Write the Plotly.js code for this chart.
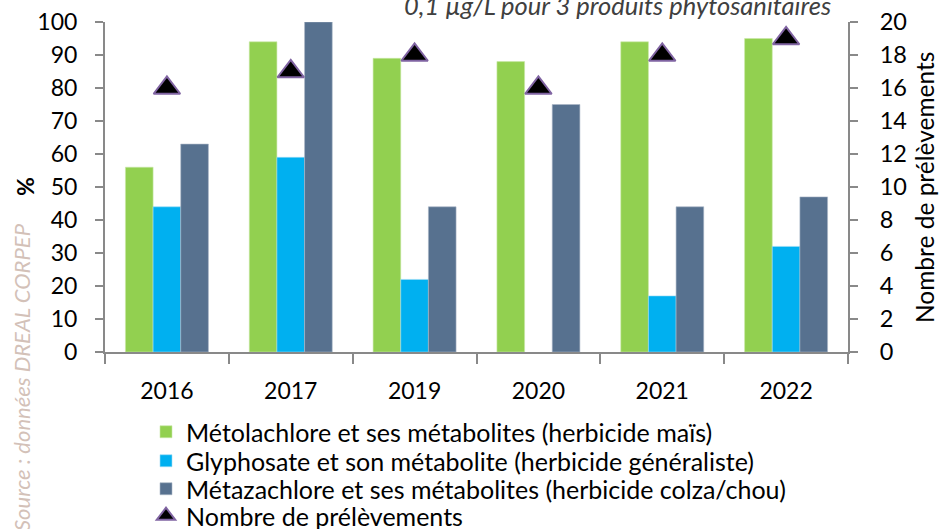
<!DOCTYPE html>
<html>
<head>
<meta charset="utf-8">
<script src="https://cdn.plot.ly/plotly-3.0.1.min.js"></script>
<style>html,body{margin:0;padding:0;background:#fff}#chart{width:940px;height:529px}</style>
</head>
<body>
<div id="chart"></div>
<script>
const years = ["2016", "2017", "2019", "2020", "2021", "2022"];
const metolachlore = [56, 94, 89, 88, 94, 95];
const glyphosate = [44, 59, 22, null, 17, 32];
const metazachlore = [63, 100, 44, 75, 44, 47];
const prelevements = [16, 17, 18, 16, 18, 19];
const seriesNames = [
  "Métolachlore et ses métabolites (herbicide maïs)",
  "Glyphosate et son métabolite (herbicide généraliste)",
  "Métazachlore et ses métabolites (herbicide colza/chou)",
  "Nombre de prélèvements"
];

const FONT = "Lato, 'Liberation Sans', sans-serif";
const W = 940, H = 529;

const traces = [
  {type: "bar", x: years, y: metolachlore, name: seriesNames[0], legend: "legend",
   marker: {color: "#92d050", line: {color: "#c9e8a8", width: 0.6}}},
  {type: "bar", x: years, y: glyphosate, name: seriesNames[1], legend: "legend2",
   marker: {color: "#00b0f0", line: {color: "#9fdcf5", width: 0.6}}},
  {type: "bar", x: years, y: metazachlore, name: seriesNames[2], legend: "legend3",
   marker: {color: "#57718f", line: {color: "#a9b6c6", width: 0.6}}},
  {type: "scatter", mode: "markers", x: years, y: prelevements, yaxis: "y2", name: seriesNames[3], legend: "legend4",
   marker: {symbol: "triangle-up", size: 23, color: "#000000", line: {color: "#8064a2", width: 2}}}
];

function leg(rowY) {
  return {
    xref: "container", yref: "container",
    x: 146 / W, y: 1 - rowY / H, xanchor: "left", yanchor: "middle",
    font: {family: FONT, size: 25, color: "#000000"},
    bgcolor: "rgba(0,0,0,0)", itemwidth: 30
  };
}

const layout = {
  width: W, height: H,
  margin: {l: 105, r: 92, t: 22, b: 177, autoexpand: false},
  paper_bgcolor: "#ffffff", plot_bgcolor: "#ffffff",
  font: {family: FONT, size: 23, color: "#000000"},
  barmode: "group",
  bargap: 0.33,
  bargroupgap: 0,
  showlegend: true,
  legend: leg(432),
  legend2: leg(461),
  legend3: leg(489),
  legend4: leg(516),
  xaxis: {
    type: "category",
    showline: true, linecolor: "#898989", linewidth: 2,
    ticks: "outside", tickson: "boundaries", ticklen: 10, tickwidth: 2, tickcolor: "#898989",
    ticklabelstandoff: 17,
    tickfont: {family: FONT, size: 23, color: "#000000"},
    showgrid: false, zeroline: false, fixedrange: true
  },
  yaxis: {
    range: [0, 100], dtick: 10, tick0: 0,
    showline: true, linecolor: "#898989", linewidth: 2,
    ticks: "outside", ticklen: 8, tickwidth: 2, tickcolor: "#898989",
    ticklabelstandoff: 13,
    tickfont: {family: FONT, size: 23, color: "#000000"},
    showgrid: false, zeroline: false
  },
  yaxis2: {
    range: [0, 20], dtick: 2, tick0: 0,
    overlaying: "y", side: "right",
    showline: true, linecolor: "#898989", linewidth: 2,
    ticks: "outside", ticklen: 8, tickwidth: 2, tickcolor: "#898989",
    ticklabelstandoff: 17,
    tickfont: {family: FONT, size: 23.5, color: "#000000"},
    showgrid: false, zeroline: false
  },
  annotations: [
    {text: "0,1 µg/L pour 3 produits phytosanitaires", xref: "paper", yref: "paper",
     x: (617 - 105) / 743, y: (352 - 5) / 330, xanchor: "center", yanchor: "middle",
     showarrow: false, font: {family: FONT, size: 25.5, color: "#404040", style: "italic"}},
    {text: "<b>%</b>", xref: "paper", yref: "paper",
     x: (25 - 105) / 743, y: (352 - 187) / 330, xanchor: "center", yanchor: "middle",
     textangle: -90, showarrow: false, font: {family: FONT, size: 23, color: "#000000"}},
    {text: "Nombre de prélèvements", xref: "paper", yref: "paper",
     x: (924 - 105) / 743, y: (352 - 188) / 330, xanchor: "center", yanchor: "middle",
     textangle: -90, showarrow: false, font: {family: FONT, size: 24.5, color: "#000000"}},
    {text: "Source : données DREAL CORPEP", xref: "paper", yref: "paper",
     x: (21 - 105) / 743, y: (352 - 377) / 330, xanchor: "center", yanchor: "middle",
     textangle: -90, showarrow: false, font: {family: FONT, size: 22, color: "#d3c1b8", style: "italic"}}
  ]
};

Plotly.newPlot("chart", traces, layout, {displayModeBar: false, staticPlot: true});
</script>
</body>
</html>
